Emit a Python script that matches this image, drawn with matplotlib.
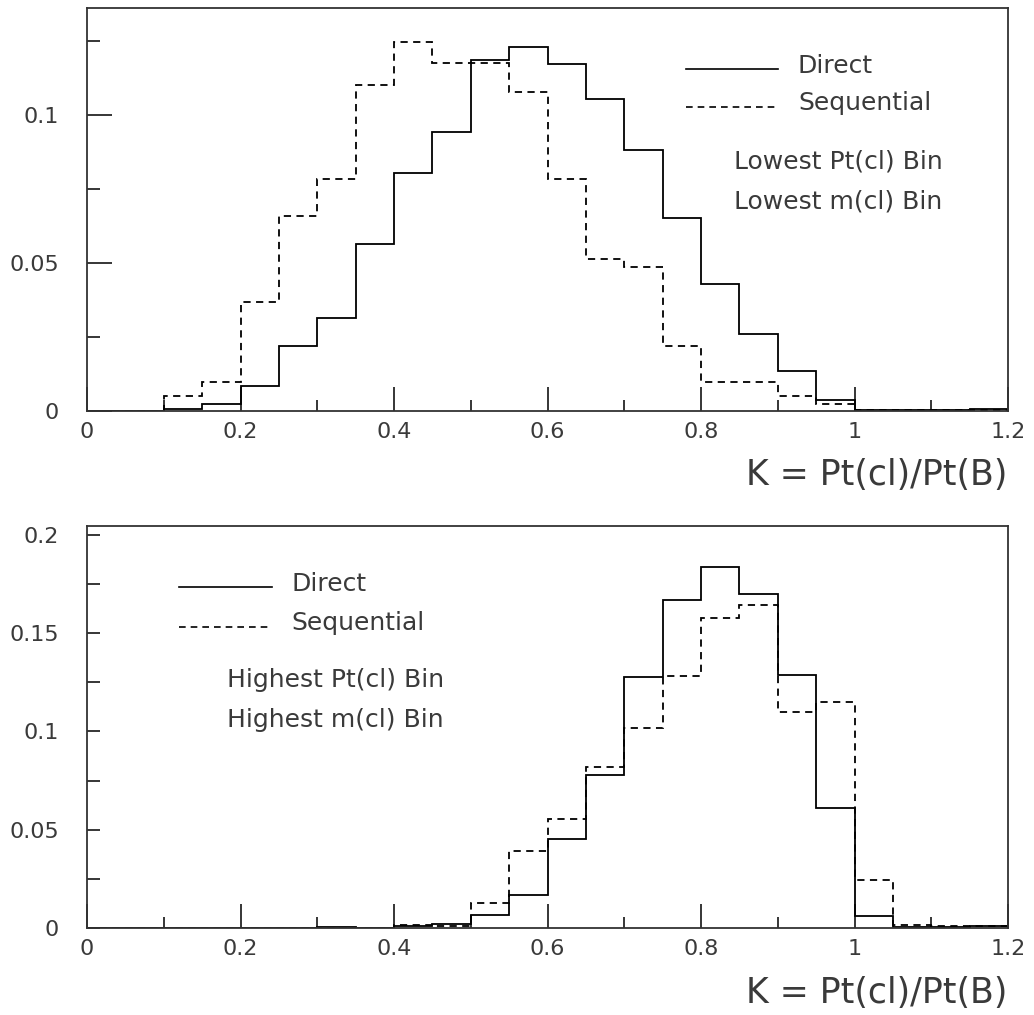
import numpy as np
import matplotlib
matplotlib.use("Agg")
import matplotlib.pyplot as plt

bin_edges = np.round(np.arange(0, 1.2001, 0.05), 3)

top_direct = [0, 0, 0.0007, 0.0024, 0.0084, 0.0219, 0.0313, 0.0565, 0.0805, 0.0942,
              0.1185, 0.1228, 0.1172, 0.1055, 0.0881, 0.0651, 0.0428, 0.0260, 0.0134,
              0.0036, 0.0005, 0.0003, 0.0003, 0.0008]
top_seq = [0, 0, 0.0049, 0.0097, 0.0367, 0.0660, 0.0783, 0.1102, 0.1247, 0.1175,
           0.1175, 0.1077, 0.0783, 0.0514, 0.0488, 0.0219, 0.0097, 0.0097, 0.0049,
           0.0025, 0.0002, 0.0002, 0.0002, 0.0004]

bot_direct = [0, 0, 0, 0, 0, 0, 0.0003, 0, 0.0008, 0.0020,
              0.0068, 0.0166, 0.0454, 0.0777, 0.1275, 0.1668, 0.1838, 0.1699, 0.1286,
              0.0608, 0.0059, 0.0005, 0.0005, 0.0010]
bot_seq = [0, 0, 0, 0, 0, 0, 0.0002, 0, 0.0014, 0.0012,
           0.0127, 0.0391, 0.0554, 0.0818, 0.1015, 0.1282, 0.1575, 0.1641, 0.1098,
           0.1148, 0.0244, 0.0014, 0.0008, 0.0012]

xlabel = "K = Pt(cl)/Pt(B)"
top_notes = ["Lowest Pt(cl) Bin", "Lowest m(cl) Bin"]
bot_notes = ["Highest Pt(cl) Bin", "Highest m(cl) Bin"]

plt.rcParams['font.family'] = ['DejaVu Sans']
TXT = '#3a3a3a'

fig = plt.figure(figsize=(10.34, 10.15), dpi=100)
W, H = 1034, 1015

def make_ax(top_px, bot_px):
    return fig.add_axes([87 / W, 1 - bot_px / H, (1008 - 87) / W, (bot_px - top_px) / H])

ax1 = make_ax(8, 411)
ax2 = make_ax(525.7, 928)

def draw(ax, d, s, ymax, yticks, ylabels, long_major=True):
    ax.stairs(d, bin_edges, color='black', lw=1.3, linestyle='-')
    ax.stairs(s, bin_edges, color='black', lw=1.3, linestyle=(0, (4, 3)))
    ax.set_xlim(0, 1.2)
    ax.set_ylim(0, ymax)
    ax.set_xticks([0, 0.2, 0.4, 0.6, 0.8, 1.0, 1.2])
    ax.set_xticklabels(['0', '0.2', '0.4', '0.6', '0.8', '1', '1.2'])
    ax.set_xticks(np.arange(0.1, 1.2, 0.2), minor=True)
    ax.set_yticks(yticks)
    ax.set_yticklabels(ylabels)
    ax.set_yticks(np.arange(0.025, ymax, 0.05), minor=True)
    ax.tick_params(axis='both', which='both', direction='in', top=False, right=False,
                   width=1.1, color='black', labelsize=16, labelcolor=TXT)
    ax.tick_params(axis='x', which='major', length=17, pad=8)
    ax.tick_params(axis='x', which='minor', length=8)
    ax.tick_params(axis='y', which='major', length=18 if long_major else 9, pad=20)
    ax.tick_params(axis='y', which='minor', length=9)
    for sp in ax.spines.values():
        sp.set_linewidth(1.3)
        sp.set_color('#333333')

draw(ax1, top_direct, top_seq, 0.1361, [0, 0.05, 0.1], ['0', '0.05', '0.1'])
draw(ax2, bot_direct, bot_seq, 0.2046, [0, 0.05, 0.1, 0.15, 0.2],
     ['0', '0.05', '0.1', '0.15', '0.2'], long_major=False)

def legend(ax, x0, x1, xt, ys, yd, notes_x, notes_y):
    tr = ax.transAxes
    inv = ax.transAxes.inverted()
    def fr(px, py):
        return inv.transform(fig.transFigure.transform((px / W, 1 - py / H)))
    a = fr(x0, ys); b = fr(x1, ys)
    ax.plot([a[0], b[0]], [a[1], b[1]], transform=tr, color='black', lw=1.2)
    a = fr(x0, yd); b = fr(x1, yd)
    ax.plot([a[0], b[0]], [a[1], b[1]], transform=tr, color='black', lw=1.2,
            linestyle=(0, (4, 3)))
    p = fr(xt, ys - 3)
    ax.text(p[0], p[1], "Direct", transform=tr, fontsize=18, color=TXT, va='center', ha='left')
    p = fr(xt, yd - 4)
    ax.text(p[0], p[1], "Sequential", transform=tr, fontsize=18, color=TXT, va='center', ha='left')
    for txt, y in zip(notes_x, notes_y):
        p = fr(y[0], y[1])
        ax.text(p[0], p[1], txt, transform=tr, fontsize=18, color=TXT, va='center', ha='left')

legend(ax1, 686, 778, 798, 69, 107, top_notes, [(734, 162), (734, 201)])
legend(ax2, 179, 272, 291, 587, 627, bot_notes, [(227, 680), (227, 720)])

fig.text(1007 / W, 1 - 485.5 / H, xlabel, ha='right', va='baseline', fontsize=25, color=TXT)
fig.text(1007 / W, 1 - 1002.5 / H, xlabel, ha='right', va='baseline', fontsize=25, color=TXT)

fig.savefig('out.png', dpi=100, facecolor='white')
